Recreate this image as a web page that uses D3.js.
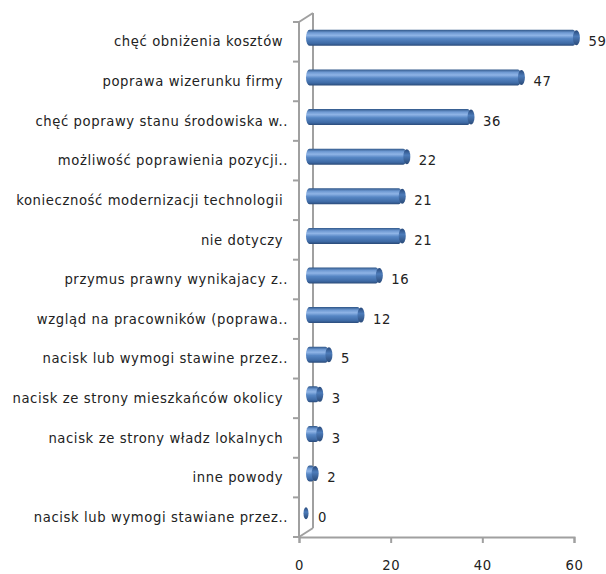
<!DOCTYPE html>
<html>
<head>
<meta charset="utf-8">
<script src="https://cdn.jsdelivr.net/npm/d3@7"></script>
<style>
html,body{margin:0;padding:0;background:#fff;}
svg{display:block;}
text{font-family:"DejaVu Sans",sans-serif;white-space:pre;}
</style>
</head>
<body>
<svg id="chart" width="606" height="574"></svg>
<script>
const categories = [
  "chęć obniżenia kosztów ",
  "poprawa wizerunku firmy ",
  "chęć poprawy stanu środowiska w..",
  "możliwość poprawienia pozycji..",
  "konieczność modernizacji technologii ",
  "nie dotyczy ",
  "przymus prawny wynikajacy z..",
  "wzgląd na pracowników (poprawa..",
  "nacisk lub wymogi stawine przez..",
  "nacisk ze strony mieszkańców okolicy ",
  "nacisk ze strony władz lokalnych ",
  "inne powody ",
  "nacisk lub wymogi stawiane przez.."
];
const values = [59, 47, 36, 22, 21, 21, 16, 12, 5, 3, 3, 2, 0];
const xTicks = [0, 20, 40, 60];

const svg = d3.select("#chart");
const x = d3.scaleLinear().domain([0, 60]).range([299, 574]);
const y = d3.scaleBand().domain(categories).range([22, 537]).padding(0);
const depthX = 14, depthY = 9;
const barDX = 7, barDY = -4;
const barH = 16, capRx = 3.5;
const fs = 13.2, ls = 0.6, txt = "#222";

const defs = svg.append("defs");
const g = defs.append("linearGradient").attr("id", "cyl").attr("x1", 0).attr("y1", 0).attr("x2", 0).attr("y2", 1);
[[0, "#2f5688"], [0.18, "#6e99d2"], [0.35, "#8fb4e6"], [0.55, "#5686c4"], [0.85, "#3e6aa5"], [1, "#2a4a78"]]
  .forEach(([o, c]) => g.append("stop").attr("offset", o).attr("stop-color", c));
const gc = defs.append("linearGradient").attr("id", "cap").attr("x1", 0).attr("y1", 0).attr("x2", 0).attr("y2", 1);
[[0, "#27487a"], [0.4, "#4d7cba"], [1, "#2a4a78"]]
  .forEach(([o, c]) => gc.append("stop").attr("offset", o).attr("stop-color", c));

const axisColor = "#a0a0a0";

const x0 = x(0), yTop = y.range()[0], yBot = y.range()[1];
svg.append("line").attr("x1", x0 + depthX).attr("y1", yTop - depthY).attr("x2", x0 + depthX).attr("y2", yBot - depthY)
  .attr("stroke", axisColor).attr("stroke-width", 2);
svg.append("line").attr("x1", x0).attr("y1", yTop).attr("x2", x0 + depthX).attr("y2", yTop - depthY)
  .attr("stroke", axisColor).attr("stroke-width", 2);
svg.append("line").attr("x1", x0).attr("y1", yBot).attr("x2", x0 + depthX).attr("y2", yBot - depthY)
  .attr("stroke", axisColor).attr("stroke-width", 2);

svg.append("line").attr("x1", x0).attr("y1", yTop).attr("x2", x0).attr("y2", yBot)
  .attr("stroke", axisColor).attr("stroke-width", 2);
const bounds = categories.map(c => y(c)).concat([yBot]);
svg.selectAll(".ctick").data(bounds).join("line")
  .attr("x1", x0 - 6).attr("x2", x0).attr("y1", d => d).attr("y2", d => d)
  .attr("stroke", axisColor).attr("stroke-width", 2);

const xAxis = d3.axisBottom(x).tickValues(xTicks).tickSize(6).tickPadding(18).tickFormat(d3.format("d"));
const ax = svg.append("g").attr("transform", `translate(0,${yBot})`).call(xAxis);
ax.select(".domain").attr("stroke", axisColor).attr("stroke-width", 2);
ax.selectAll(".tick line").attr("stroke", axisColor).attr("stroke-width", 2);
ax.selectAll(".tick text").attr("font-family", "DejaVu Sans").attr("font-size", fs).attr("letter-spacing", ls).attr("fill", txt);

const bars = svg.append("g");
categories.forEach((c, i) => {
  const v = values[i];
  const cy = y(c) + y.bandwidth() / 2 + barDY;
  const xs = x(0) + barDX, xe = x(v) + barDX;
  if (v > 0) {
    bars.append("rect").attr("x", xs).attr("y", cy - barH / 2).attr("width", xe - xs).attr("height", barH)
      .attr("rx", 3.5).attr("ry", barH / 2).attr("fill", "url(#cyl)");
  }
  bars.append("ellipse").attr("cx", xe).attr("cy", cy).attr("rx", v > 0 ? capRx : 2.5).attr("ry", barH / 2 - (v > 0 ? 0.5 : 2))
    .attr("fill", "url(#cap)");
});

svg.append("g").selectAll("text").data(values).join("text")
  .attr("x", d => x(d) + 19)
  .attr("y", (d, i) => y(categories[i]) + y.bandwidth() / 2)
  .attr("dy", "0.35em")
  .attr("font-size", fs).attr("letter-spacing", ls).attr("fill", txt)
  .text(d => d);

svg.append("g").selectAll("text").data(categories).join("text")
  .attr("x", 288)
  .attr("y", d => y(d) + y.bandwidth() / 2)
  .attr("dy", "0.35em")
  .attr("text-anchor", "end")
  .attr("font-size", fs).attr("letter-spacing", ls).attr("fill", txt)
  .text(d => d);
</script>
</body>
</html>
